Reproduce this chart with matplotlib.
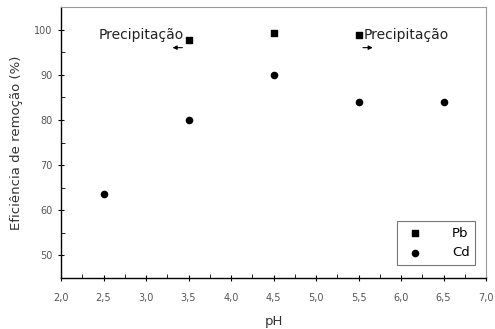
import matplotlib
matplotlib.use("Agg")
import matplotlib.pyplot as plt
from matplotlib.ticker import MultipleLocator

ph_pb = [3.5, 4.5, 5.5]
pb = [97.8, 99.2, 98.8]
ph_cd = [2.5, 3.5, 4.5, 5.5, 6.5]
cd = [63.5, 80.0, 90.0, 84.0, 84.0]
xticks = [2.0, 2.5, 3.0, 3.5, 4.0, 4.5, 5.0, 5.5, 6.0, 6.5, 7.0]
yticks = [50, 60, 70, 80, 90, 100]

fig = plt.figure(figsize=(4.95, 3.29), dpi=100)
ax = fig.add_axes([61/495, 1-278/329, (486-61)/495, (278-7)/329])

ax.scatter(ph_pb, pb, marker='s', s=14, color='black', label='Pb', zorder=3)
ax.scatter(ph_cd, cd, marker='o', s=20, color='black', label='Cd', zorder=3)

ax.set_xlim(2.0, 7.0)
ax.set_ylim(45, 105)
ax.set_xticks(xticks)
ax.set_xticklabels([f"{v:.1f}".replace('.', ',') for v in xticks])
ax.set_yticks(yticks)
ax.xaxis.set_minor_locator(MultipleLocator(0.25))
ax.yaxis.set_minor_locator(MultipleLocator(5))
ax.tick_params(which='major', direction='inout', length=5, width=0.8, labelsize=7, labelcolor='#555555')
ax.tick_params(axis='x', which='major', pad=8)
ax.tick_params(which='minor', direction='in', length=3, width=0.6)
ax.tick_params(top=False, right=False, which='both')

for s in ['top', 'right']:
    ax.spines[s].set_color('#999999')
    ax.spines[s].set_linewidth(0.8)
for s in ['left', 'bottom']:
    ax.spines[s].set_linewidth(1.0)

ax.set_xlabel('pH', fontsize=9.5, color='#333333', labelpad=9)
ax.set_ylabel('Eficiência de remoção (%)', fontsize=9.5, color='#333333', labelpad=8)

ax.text(3.45, 98.8, 'Precipitação', ha='right', va='center', fontsize=10, color='#222222')
ax.annotate('', xy=(3.28, 96.0), xytext=(3.46, 96.0),
            arrowprops=dict(arrowstyle='-|>', color='black', lw=0.8, mutation_scale=6))
ax.text(5.56, 98.8, 'Precipitação', ha='left', va='center', fontsize=10, color='#222222')
ax.annotate('', xy=(5.7, 96.0), xytext=(5.52, 96.0),
            arrowprops=dict(arrowstyle='-|>', color='black', lw=0.8, mutation_scale=6))

leg = ax.legend(loc='lower right', fontsize=9.5, frameon=True, fancybox=False,
                edgecolor='#555555', handletextpad=1.8, borderpad=0.4,
                labelspacing=0.5, bbox_to_anchor=(0.99, 0.025))
leg.get_frame().set_linewidth(0.8)

fig.savefig('out.png', dpi=100)
